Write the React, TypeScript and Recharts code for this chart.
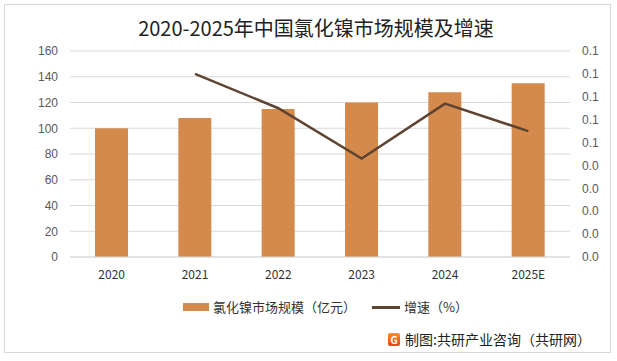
import React from "react";
import { ComposedChart, Bar, Line, XAxis, YAxis, CartesianGrid } from "recharts";

const years = ["2020", "2021", "2022", "2023", "2024", "2025E"];
const marketSize = [100, 108, 115, 120, 128, 135];
const growth = [null, 0.08, 0.065, 0.043, 0.067, 0.055];
const leftTicks = [0, 20, 40, 60, 80, 100, 120, 140, 160];
const rightTicks = [0, 0.01, 0.02, 0.03, 0.04, 0.05, 0.06, 0.07, 0.08, 0.09];

const data = years.map((y, i) => ({ year: y, size: marketSize[i], growth: growth[i] }));

const FONT = '"Noto Sans CJK SC", "Noto Sans", sans-serif';
const NUM_FONT = '"Liberation Sans", Arial, sans-serif';
const BAR = "#D48A4C";
const LINE = "#5E4331";

export default function App() {
  return (
    <div style={{ position: "absolute", left: 0, top: 0, width: 617, height: 361, background: "#fff", fontFamily: FONT }}>
      <div style={{ position: "absolute", left: 4, top: 4, width: 607, height: 349, border: "1px solid #d9d9d9", boxSizing: "border-box" }} />
      <div style={{ position: "absolute", left: 0, top: 14, width: 632, textAlign: "center", fontSize: 20, color: "#222", lineHeight: "28px" }}>
        2020-2025年中国氯化镍市场规模及增速
      </div>
      <div style={{ position: "absolute", left: 0, top: 0 }}>
        <ComposedChart width={617} height={361} data={data} margin={{ top: 51, right: 0, left: 10, bottom: 74 }}>
          <CartesianGrid vertical={false} stroke="#d9d9d9" yAxisId="left" />
          <XAxis
            dataKey="year"
            axisLine={{ stroke: "#d9d9d9" }}
            tickLine={false}
            tickMargin={7}
            height={30}
            tick={{ fill: "#333", fontSize: 12, fontFamily: FONT }}
          />
          <YAxis
            yAxisId="left"
            width={60}
            domain={[0, 160]}
            ticks={leftTicks}
            interval={0}
            axisLine={false}
            tickLine={false}
            tickMargin={6}
            tick={{ fill: "#595959", fontSize: 12, fontFamily: NUM_FONT }}
          />
          <YAxis
            yAxisId="right"
            orientation="right"
            width={47}
            domain={[0, 0.09]}
            ticks={rightTicks}
            interval={0}
            axisLine={false}
            tickLine={false}
            tickMargin={6}
            tickFormatter={(v: number) => v.toFixed(1)}
            tick={{ fill: "#595959", fontSize: 12, fontFamily: NUM_FONT, textAnchor: "start" }}
          />
          <Bar yAxisId="left" dataKey="size" fill={BAR} barSize={33} isAnimationActive={false} />
          <Line
            yAxisId="right"
            dataKey="growth"
            stroke={LINE}
            strokeWidth={2.5}
            dot={false}
            connectNulls={false}
            isAnimationActive={false}
          />
        </ComposedChart>
      </div>
      <div style={{ position: "absolute", left: 183, top: 298, display: "flex", alignItems: "center", fontSize: 13, color: "#333", lineHeight: "18px" }}>
        <span style={{ display: "inline-block", width: 26, height: 8, background: BAR, marginRight: 4 }} />
        <span>氯化镍市场规模（亿元）</span>
        <span style={{ display: "inline-block", width: 28, height: 3, background: LINE, marginLeft: 16, marginRight: 4 }} />
        <span>增速（%）</span>
      </div>
      <div style={{ position: "absolute", left: 388, top: 330, display: "flex", alignItems: "center", fontSize: 14, color: "#222", lineHeight: "18px" }}>
        <span style={{ display: "inline-block", width: 12, height: 13, background: "linear-gradient(180deg,#F7931E,#E8401C)", borderRadius: 2, color: "#fff", fontSize: 10, fontWeight: 700, textAlign: "center", lineHeight: "13px", marginRight: 5 }}>G</span>
        <span>制图:共研产业咨询（共研网）</span>
      </div>
    </div>
  );
}
